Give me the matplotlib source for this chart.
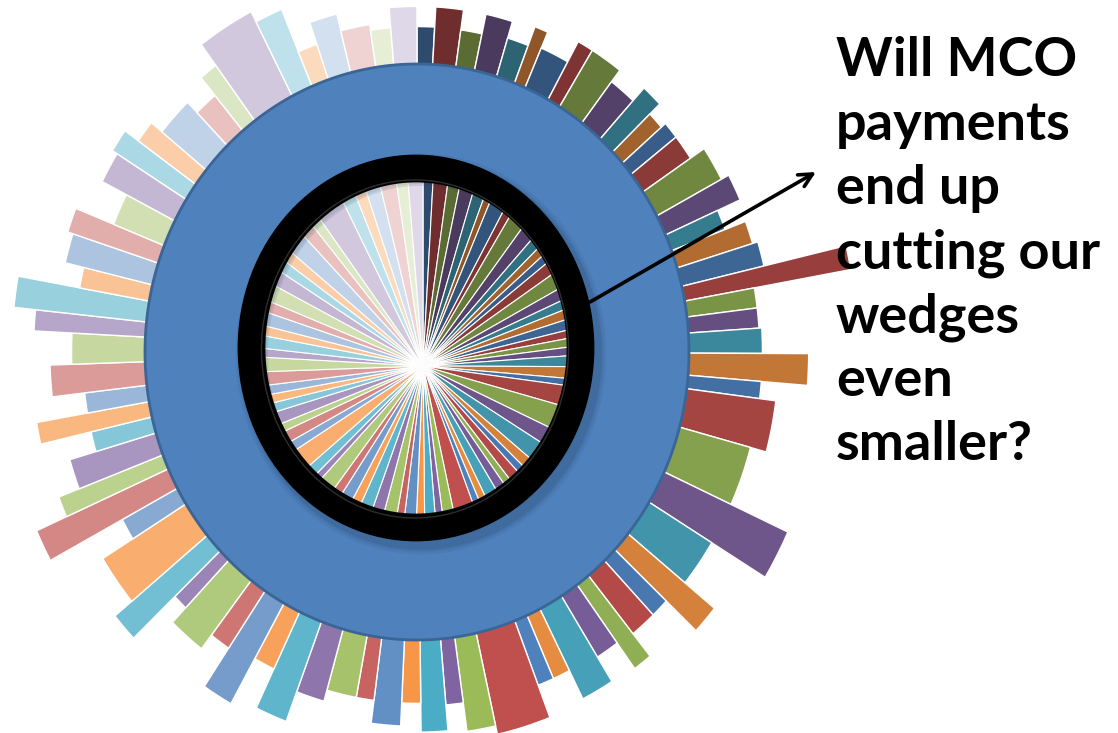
import numpy as np
import matplotlib
matplotlib.use("Agg")
import matplotlib.pyplot as plt
from matplotlib.patches import Ellipse
from matplotlib.colors import to_rgb

W, H = 1118, 733

# pie shares (one per wedge, clockwise from 12 o'clock)
shares = [3.3, 4.9, 4.0, 4.8, 4.0, 2.4, 5.4, 2.8, 5.7, 5.0,
          3.7, 3.0, 2.9, 4.3, 5.6, 4.2, 3.4, 3.6, 3.8, 3.0,
          3.2, 3.2, 4.0, 4.4, 2.7, 7.8, 9.5, 6.8, 7.7, 4.2,
          3.1, 4.5, 3.0, 4.0, 5.2, 3.0, 2.8, 8.5, 4.6, 3.0,
          4.3, 3.3, 4.8, 3.1, 5.2, 4.8, 5.0, 3.7, 4.7, 3.6,
          6.2, 2.6, 4.1, 7.7, 3.6, 4.3, 3.0, 4.6, 3.3, 3.1,
          3.3, 4.7, 4.9, 3.0, 4.2, 3.3, 4.5, 3.7, 5.4, 4.9,
          3.6, 3.6, 6.6, 4.4, 3.2, 9.3, 4.6, 3.7, 4.9, 5.4,
          3.8, 4.9]

# how far each wedge reaches past the ring (ring edge = 1.0)
reach = [1.13, 1.20, 1.13, 1.20, 1.14, 1.21, 1.15, 1.23, 1.23, 1.18,
         1.24, 1.19, 1.21, 1.21, 1.27, 1.30, 1.21, 1.29, 1.31, 1.62,
         1.26, 1.26, 1.27, 1.44, 1.27, 1.33, 1.27, 1.50, 1.27, 1.41,
         1.26, 1.26, 1.36, 1.25, 1.35, 1.24, 1.24, 1.36, 1.33, 1.23,
         1.32, 1.22, 1.30, 1.22, 1.22, 1.26, 1.37, 1.22, 1.40, 1.24,
         1.30, 1.23, 1.44, 1.36, 1.23, 1.53, 1.41, 1.33, 1.23, 1.42,
         1.23, 1.35, 1.27, 1.41, 1.49, 1.26, 1.33, 1.35, 1.20, 1.30,
         1.32, 1.26, 1.21, 1.16, 1.24, 1.33, 1.29, 1.13, 1.21, 1.15,
         1.13, 1.20]

question = ["Will MCO", "payments", "end up", "cutting our",
            "wedges", "even", "smaller?"]

accents = ["#4F81BD", "#C0504D", "#9BBB59", "#8064A2", "#4BACC6", "#F79646"]


def wedge_color(i):
    base = np.array(to_rgb(accents[i % 6]))
    k = i // 6
    if k < 6:
        return tuple(base * (1 - 0.42 * (6 - k) / 6))
    t = 0.75 * (k - 6) / 7
    return tuple(base + (1 - base) * t)


colors = [wedge_color(i) for i in range(len(shares))]
vals = np.array(shares, dtype=float)
widths = vals / vals.sum() * 2 * np.pi
starts = np.concatenate([[0], np.cumsum(widths)[:-1]])
centers = starts + widths / 2


def polar_axes(fig, cx, cy, rx, ry, zorder):
    ax = fig.add_axes([(cx - rx) / W, (H - cy - ry) / H, 2 * rx / W, 2 * ry / H],
                      projection="polar")
    ax.set_aspect("auto")
    ax.set_theta_zero_location("N")
    ax.set_theta_direction(-1)
    ax.axis("off")
    ax.set_zorder(zorder)
    return ax


fig = plt.figure(figsize=(W / 100, H / 100), dpi=100)

# outer bars + big blue ring
RMAX = 1.68
bx = polar_axes(fig, 417, 352, 272 * RMAX, 288 * RMAX, 1)
bx.set_ylim(0, RMAX)
bottom = 0.6
bx.bar(centers, np.array(reach) - bottom, width=widths, bottom=bottom,
       color=colors, edgecolor="white", linewidth=1.0, align="center")
ring_t = np.linspace(0, 2 * np.pi, 600)
bx.fill(ring_t, np.ones_like(ring_t), facecolor="#4F81BD", edgecolor="#3A6595",
        linewidth=2.0, zorder=5)

# pie seen through the lens
px = polar_axes(fig, 423, 366, 215, 228, 2)
px.set_ylim(0, 1)
lens_clip = Ellipse((415 / W, 1 - 349 / H), 306 / W, 338 / H, transform=fig.transFigure)
pie_bars = px.bar(centers, np.ones_like(centers), width=widths, bottom=0,
                  color=colors, edgecolor="white", linewidth=0.8, align="center")
for b in pie_bars:
    b.set_clip_path(lens_clip)

# lens rim, arrow and question
ov = fig.add_axes([0, 0, 1, 1])
ov.set_xlim(0, W)
ov.set_ylim(H, 0)
ov.axis("off")
ov.set_zorder(3)
# soft shadow of the rim on the blue ring
for grow, a in [(14, 0.06), (9, 0.08), (5, 0.10)]:
    ov.add_patch(Ellipse((421, 354), 329 + grow, 359 + grow, fill=False,
                         ec="#10243f", lw=20, alpha=a))
ov.add_patch(Ellipse((416, 348), 329, 359, fill=False, ec="black", lw=20))
ov.add_patch(Ellipse((415, 349), 307, 338, fill=False, ec="#2e2e2e", lw=1.0))

ov.annotate("", xy=(816, 172), xytext=(590, 302),
            arrowprops=dict(arrowstyle="->", color="black", lw=2.6,
                            mutation_scale=24, shrinkA=0, shrinkB=0))

for i, line in enumerate(question):
    ov.text(836, 76 + 64 * i, line, fontsize=39, fontweight="bold",
            family=["Lato", "DejaVu Sans"], color="black",
            ha="left", va="baseline")

fig.savefig("out.png", dpi=100)
